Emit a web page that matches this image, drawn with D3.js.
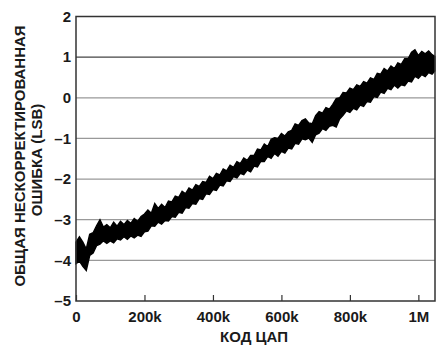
<!DOCTYPE html>
<html><head><meta charset="utf-8">
<script src="https://cdn.jsdelivr.net/npm/d3@7"></script>
<style>body{margin:0;background:#fff}svg{display:block}text{font-family:"Liberation Sans",Arial,sans-serif;font-weight:bold;fill:#1a1a1a}</style>
</head><body>
<script>
const codesK = [0,10,20,30,40,50,60,70,80,90,100,110,120,130,140,150,160,170,180,190,200,210,220,230,240,250,260,270,280,290,300,310,320,330,340,350,360,370,380,390,400,410,420,430,440,450,460,470,480,490,500,510,520,530,540,550,560,570,580,590,600,610,620,630,640,650,660,670,680,690,700,710,720,730,740,750,760,770,780,790,800,810,820,830,840,850,860,870,880,890,900,910,920,930,940,950,960,970,980,990,1000,1010,1020,1030,1040,1048];
const errUpper = [-3.55,-3.42,-3.55,-3.72,-3.36,-3.32,-3.15,-3.00,-3.18,-3.12,-3.20,-3.06,-3.16,-3.04,-3.12,-3.02,-3.09,-2.97,-3.04,-2.92,-2.86,-2.76,-2.84,-2.60,-2.72,-2.62,-2.70,-2.54,-2.56,-2.42,-2.45,-2.30,-2.36,-2.22,-2.27,-2.14,-2.18,-2.06,-2.08,-1.93,-1.99,-1.86,-1.90,-1.75,-1.80,-1.66,-1.71,-1.57,-1.62,-1.48,-1.54,-1.42,-1.42,-1.26,-1.28,-1.14,-1.20,-1.02,-0.98,-1.00,-0.88,-0.94,-0.84,-0.80,-0.64,-0.68,-0.56,-0.52,-0.62,-0.64,-0.44,-0.34,-0.38,-0.24,-0.28,-0.16,-0.02,0.00,0.13,0.12,0.24,0.20,0.32,0.28,0.40,0.36,0.49,0.45,0.60,0.58,0.72,0.66,0.78,0.72,0.86,0.82,0.96,0.96,1.12,1.18,1.04,1.14,1.08,1.15,1.06,1.02];
const errLower = [-4.08,-4.02,-4.15,-4.25,-3.88,-3.82,-3.64,-3.60,-3.52,-3.58,-3.52,-3.57,-3.47,-3.50,-3.42,-3.48,-3.40,-3.45,-3.38,-3.41,-3.30,-3.28,-3.15,-3.16,-3.06,-3.11,-3.02,-3.03,-2.92,-2.94,-2.82,-2.84,-2.70,-2.72,-2.60,-2.62,-2.48,-2.50,-2.36,-2.38,-2.26,-2.28,-2.15,-2.17,-2.04,-2.06,-1.94,-1.97,-1.86,-1.89,-1.78,-1.82,-1.68,-1.70,-1.56,-1.57,-1.44,-1.49,-1.37,-1.44,-1.32,-1.36,-1.24,-1.26,-1.12,-1.14,-1.01,-1.03,-0.99,-1.10,-0.91,-0.87,-0.76,-0.80,-0.70,-0.68,-0.72,-0.52,-0.43,-0.32,-0.36,-0.26,-0.30,-0.18,-0.21,-0.09,-0.11,0.03,0.01,0.14,0.11,0.23,0.20,0.31,0.24,0.32,0.30,0.41,0.39,0.53,0.48,0.57,0.52,0.62,0.58,0.66];
const xTicks = [0,200000,400000,600000,800000,1000000];
const xTickLabels = ["0","200k","400k","600k","800k","1M"];
const yTicks = [2,1,0,-1,-2,-3,-4,-5];
const yTickLabels = ["2","1","0","–1","–2","–3","–4","–5"];
const xTitle = "КОД ЦАП";
const yTitle = ["ОБЩАЯ НЕСКОРРЕКТИРОВАННАЯ","ОШИБКА (LSB)"];

const W=441,H=353, L=76, T=16.5, R=435, B=301;
const svg=d3.select("body").append("svg").attr("width",W).attr("height",H);
const x=d3.scaleLinear().domain([0,1048576]).range([L,R]);
const y=d3.scaleLinear().domain([-5,2]).range([B,T]);

// gridlines
svg.append("g").selectAll("line").data(yTicks.filter(v=>v>-5&&v<2)).join("line")
  .attr("x1",L).attr("x2",R).attr("y1",d=>y(d)).attr("y2",d=>y(d))
  .attr("stroke",d=>d===1?"#444":"#999").attr("stroke-width",1.2);

// band
const data=codesK.map((k,i)=>({k:k*1000,u:errUpper[i],l:errLower[i]}));
const area=d3.area().x(d=>x(d.k)).y0(d=>y(d.l)).y1(d=>y(d.u));
svg.append("path").datum(data).attr("d",area).attr("fill","#000").attr("stroke","#000").attr("stroke-width",1.4).attr("stroke-linejoin","miter");

// frame
svg.append("rect").attr("x",L).attr("y",T).attr("width",R-L).attr("height",B-T)
  .attr("fill","none").attr("stroke","#333").attr("stroke-width",1.5);

// x axis ticks (inward)
const xa=d3.axisBottom(x).tickValues(xTicks).tickSize(-6).tickFormat((d,i)=>xTickLabels[i]).tickPadding(10);
const gx=svg.append("g").attr("transform",`translate(0,${B})`).call(xa);
gx.select(".domain").remove();
gx.selectAll("line").attr("stroke","#333").attr("stroke-width",1.2);
gx.selectAll("text").attr("font-size",15).attr("font-family","Liberation Sans, Arial, sans-serif").attr("font-weight","bold").attr("fill","#1a1a1a");

// y axis labels
const ya=d3.axisLeft(y).tickValues(yTicks).tickSize(0).tickPadding(5).tickFormat((d,i)=>yTickLabels[i]);
const gy=svg.append("g").attr("transform",`translate(${L},0)`).call(ya);
gy.select(".domain").remove();
gy.selectAll("text").attr("font-size",15).attr("font-family","Liberation Sans, Arial, sans-serif").attr("font-weight","bold").attr("fill","#1a1a1a");

// titles
svg.append("text").attr("x",254).attr("y",342).attr("text-anchor","middle").attr("font-size",15).text(xTitle);
svg.append("text").attr("transform","translate(25,156) rotate(-90)").attr("text-anchor","middle").attr("font-size",15).text(yTitle[0]);
svg.append("text").attr("transform","translate(42,160) rotate(-90)").attr("text-anchor","middle").attr("font-size",15).text(yTitle[1]);
</script>
</body></html>
